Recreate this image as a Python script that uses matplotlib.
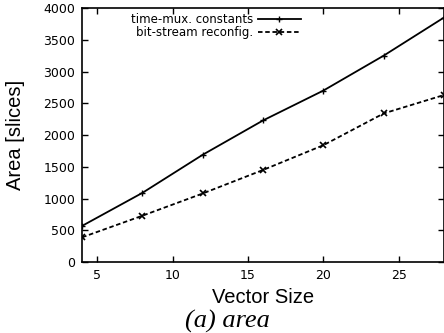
import matplotlib
matplotlib.use("Agg")
import matplotlib.pyplot as plt

# vector sizes and area results (slices)
vector_size = [4, 8, 12, 16, 20, 24, 28]
time_mux = [570, 1090, 1690, 2230, 2700, 3250, 3850]
bit_stream = [390, 730, 1080, 1450, 1840, 2340, 2630]

plt.rcParams['font.family'] = ['Liberation Sans', 'DejaVu Sans']

fig = plt.figure(figsize=(4.44, 3.33), dpi=100)
ax = fig.add_axes([0.185, 0.213, 0.815, 0.763])

ax.plot(vector_size, time_mux, color='black', lw=1.3, marker='+', ms=5,
        mew=1.0, label='time-mux. constants')
ax.plot(vector_size, bit_stream, color='black', lw=1.3, ls=(0, (2.5, 1.5)),
        marker='x', ms=4, mew=1.2, label='bit-stream reconfig.')

ax.set_xlim(4, 28)
ax.set_ylim(0, 4000)
ax.set_xticks([5, 10, 15, 20, 25])
ax.set_yticks(range(0, 4001, 500))
ax.tick_params(direction='in', top=True, right=True, labelsize=9, length=4,
               width=1, pad=5)
for lbl in ax.get_xticklabels() + ax.get_yticklabels():
    lbl.set_family('DejaVu Sans')
for s in ax.spines.values():
    s.set_linewidth(1.2)

ax.set_xlabel('Vector Size', fontsize=14.5, labelpad=4)
ax.set_ylabel('Area [slices]', fontsize=14.5, labelpad=13)

ax.legend(loc='upper left', bbox_to_anchor=(0.123, 1.0), frameon=False,
          markerfirst=False, handlelength=3.65, handletextpad=0.35,
          labelspacing=0.0, borderaxespad=0.2, borderpad=0.2,
          prop={'family': 'DejaVu Sans', 'size': 8.5})
leg = ax.get_legend()
for t in leg.get_texts():
    t.set_ha('right')

fig.text(0.512, 0.015, '(a) area', fontsize=19, style='italic',
         family=['Liberation Serif', 'DejaVu Serif'], ha='center',
         va='baseline')

fig.savefig('out.png', dpi=100)
